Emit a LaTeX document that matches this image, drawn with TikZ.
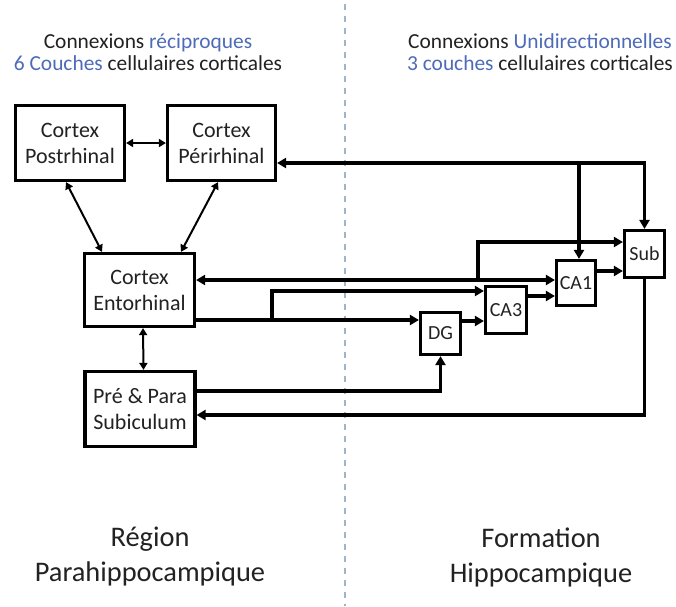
\documentclass[tikz,border=0pt]{standalone}
\usepackage{fontspec}
\setmainfont{Carlito}
\usetikzlibrary{arrows.meta,calc}
\definecolor{blu}{HTML}{4E6BB8}
\definecolor{txt}{HTML}{222222}
\definecolor{dashc}{HTML}{9DB6CC}
\begin{document}
\begin{tikzpicture}[x=1pt,y=-1pt,
  box/.style={draw=black,line width=3.2pt,fill=white,inner sep=0pt,align=center,text=txt,font=\fontsize{22}{26}\selectfont},
  sbox/.style={draw=black,line width=3.2pt,fill=white,inner sep=0pt,align=center,text=txt,font=\fontsize{20}{22}\selectfont},
  con/.style={line width=3.2pt,-{Triangle[length=9pt,width=10pt]}},
  con2/.style={line width=3.2pt,{Triangle[length=9pt,width=10pt]}-{Triangle[length=9pt,width=10pt]}},
  thin2/.style={line width=2pt,{Triangle[length=7pt,width=8pt]}-{Triangle[length=7pt,width=8pt]}},
  head/.style={align=center,text=txt,font=\fontsize{21.4}{22.5}\selectfont},
  title/.style={align=center,text=txt,font=\fontsize{28.4}{35}\selectfont}]
\useasboundingbox (0,0) rectangle (676,606);
\fill[white] (0,0) rectangle (676,606);
\draw[dashc,line width=1.2pt,dash pattern=on 6pt off 6pt] (345,4) -- (345,606);

\node[head] (h1) at (148,52) {Connexions \textcolor{blu}{réciproques}\\\textcolor{blu}{6 Couches} cellulaires corticales};
\node[head] (h2) at (540,52) {Connexions \textcolor{blu}{Unidirectionnelles}\\\textcolor{blu}{3 couches} cellulaires corticales};
\node[title] (t1) at (150,557) {Région\\Parahippocampique};
\node[title] (t2) at (541,557) {Formation\\Hippocampique};

\node[box,minimum width=109pt,minimum height=75pt] (PR) at (70,143) {Cortex\\Postrhinal};
\node[box,minimum width=108pt,minimum height=75pt] (PE) at (221.5,143) {Cortex\\Périrhinal};
\node[box,minimum width=110pt,minimum height=73pt] (EC) at (139.5,290) {Cortex\\Entorhinal};
\node[box,minimum width=110pt,minimum height=75pt] (PP) at (140,409) {Pré \& Para\\Subiculum};
\node[sbox,minimum width=40pt,minimum height=42pt] (DG) at (440.5,333.5) {DG};
\node[sbox,minimum width=41pt,minimum height=47pt] (CA3) at (506,310) {CA3};
\node[sbox,minimum width=39pt,minimum height=45pt] (CA1) at (576,283) {CA1};
\node[sbox,minimum width=40pt,minimum height=47pt] (Sub) at (644.5,254) {Sub};

\coordinate (y163) at (0,163);
\coordinate (y271) at (0,271);
\coordinate (y280) at (0,280);
\coordinate (y296) at (0,296);
\coordinate (y321) at (0,321);
\coordinate (y320) at (0,320);
\coordinate (y391) at (0,391);
\coordinate (y415) at (0,415);
\coordinate (k1) at (579,163);
\coordinate (b1) at (478,280);
\coordinate (b2) at (478,242);
\coordinate (c1) at (272,320);
\coordinate (c2) at (272,291);
\coordinate (pr1) at (66,182);
\coordinate (ec1) at (102,252);
\coordinate (pe1) at (218,182);
\coordinate (ec2) at (181,252);

\draw[thin2] (PR) -- (PE);
\draw[thin2] (PR.south -| pr1) -- (EC.north -| ec1);
\draw[thin2] (PE.south -| pe1) -- (EC.north -| ec2);
\draw[thin2] ([xshift=3.5pt]EC.south) -- ([xshift=3.5pt]PP.north);

\draw[con2] (PE.east |- y163) -| (Sub.north);
\draw[con] (k1) -- (k1 |- CA1.north);

\draw[con2] (EC.east |- y280) -- (CA1.west |- y280);
\draw[con] (b1) -- (b2) -- (b2 -| Sub.west);

\draw[con] (EC.east |- y320) -- (DG.west |- y320);
\draw[con] (c1) -- (c2) -- (c2 -| CA3.west);

\draw[con] (DG.east |- y321) -- (CA3.west |- y321);
\draw[con] (CA3.east |- y296) -- (CA1.west |- y296);
\draw[con] (CA1.east |- y271) -- (Sub.west |- y271);

\draw[con] (PP.east |- y391) -| (DG.south);
\draw[con] (Sub.south) |- (PP.east |- y415);
\end{tikzpicture}
\end{document}
